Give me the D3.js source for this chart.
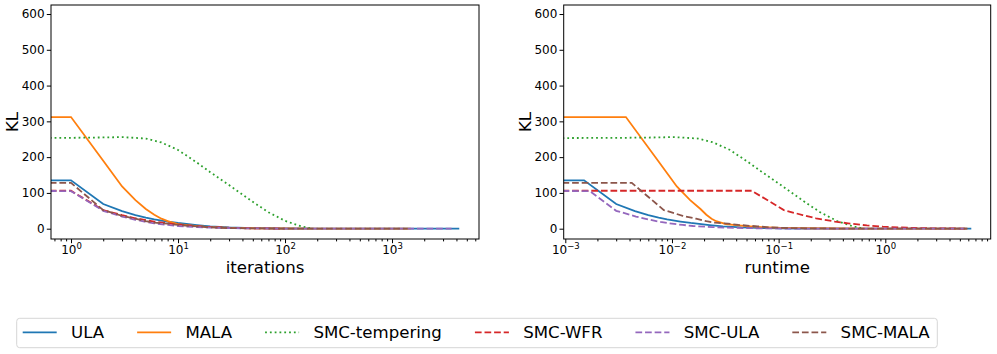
<!DOCTYPE html>
<html>
<head>
<meta charset="utf-8">
<script src="https://cdn.jsdelivr.net/npm/d3@7"></script>
<style>
body { margin: 0; background: #fff; }
svg text { font-family: "DejaVu Sans", sans-serif; fill: #000; }
</style>
</head>
<body>
<div id="chart"></div>
<script>
// KL vs iterations / runtime
var ulaIter = [0, 1, 2, 3, 4, 5, 6, 8, 10, 15, 20, 30, 50, 100, 200, 500, 1000, 2000, 4250];
var ulaTime = [0, 0.0015, 0.003, 0.0045, 0.006, 0.0075, 0.009, 0.012, 0.015, 0.0225, 0.03, 0.045, 0.075, 0.15, 0.3, 0.75, 1.5, 3.0, 6.4];
var ulaKL = [135, 135, 69, 49, 38, 31, 26, 20, 16, 10, 6.5, 3.5, 1.6, 0.6, 0.2, 0.1, 0, 0, 0];

var malaIter = [0, 1, 2, 3, 4, 5, 6, 7, 8, 10, 15, 20, 30, 50, 100, 200, 500, 1500];
var malaTime = [0, 0.0037, 0.0074, 0.0111, 0.0148, 0.0185, 0.021, 0.0235, 0.026, 0.032, 0.05, 0.07, 0.105, 0.18, 0.36, 0.72, 1.8, 5.8];
var malaKL = [312, 312, 190, 118, 80, 55, 39, 28, 21, 13, 7, 4.5, 2.5, 1.2, 0.5, 0.2, 0, 0];

var tempIter = [0, 1, 2, 3, 5, 7, 10, 15, 20, 30, 50, 70, 100, 140, 180];
var tempTime = [0, 0.0035, 0.007, 0.0105, 0.0175, 0.0245, 0.035, 0.0525, 0.07, 0.105, 0.175, 0.245, 0.35, 0.49, 0.63];
var tempKL = [253, 254, 255, 256, 252, 241, 220, 185, 158, 122, 75, 46, 22, 7, 0];

var wfrIter = [0, 1, 2, 3, 4, 6, 8, 12, 17, 25, 34, 50, 100];
var wfrTime = [0, 0.056, 0.112, 0.168, 0.224, 0.336, 0.448, 0.672, 0.952, 1.4, 1.9, 2.8, 5.6];
var wfrKL = [106, 106, 52, 38, 29, 20, 15, 9, 5.6, 3.5, 2, 1, 0.3];

var smcUlaIter = [0, 1, 2, 3, 4, 5, 6, 8, 10, 15, 20, 30, 50, 100, 200, 500, 1000, 2000, 3600];
var smcUlaTime = [0, 0.0017, 0.003, 0.0046, 0.0062, 0.0078, 0.0094, 0.0126, 0.0158, 0.024, 0.032, 0.048, 0.08, 0.16, 0.32, 0.8, 1.6, 3.2, 5.8];
var smcUlaKL = [106, 105, 50, 34, 25, 19, 15, 10.5, 7.5, 4.5, 3, 1.6, 0.8, 0.3, 0.1, 0, 0, 0, 0];

var smcMalaIter = [0, 1, 2, 3, 4, 5, 6, 8, 10, 15, 20, 30, 50, 100, 200, 500, 1000, 1400];
var smcMalaTime = [0, 0.0042, 0.0084, 0.0126, 0.0168, 0.021, 0.0252, 0.0336, 0.042, 0.063, 0.084, 0.126, 0.21, 0.42, 0.84, 2.1, 4.2, 5.9];
var smcMalaKL = [128, 128, 52, 36, 28, 21, 17, 14, 10.5, 6.5, 3.5, 1.8, 0.9, 0.3, 0.1, 0, 0, 0];

var yTicks = [0, 100, 200, 300, 400, 500, 600];
var iterTicks = [1, 10, 100, 1000];
var timeTicks = [0.001, 0.01, 0.1, 1];

var series = [
    {name: "ULA", color: "#1f77b4", dash: null, iter: ulaIter, time: ulaTime, kl: ulaKL},
    {name: "MALA", color: "#ff7f0e", dash: null, iter: malaIter, time: malaTime, kl: malaKL},
    {name: "SMC-tempering", color: "#2ca02c", dash: "1.8,3", iter: tempIter, time: tempTime, kl: tempKL},
    {name: "SMC-WFR", color: "#d62728", dash: "6.7,2.9", iter: wfrIter, time: wfrTime, kl: wfrKL},
    {name: "SMC-ULA", color: "#9467bd", dash: "6.7,2.9", iter: smcUlaIter, time: smcUlaTime, kl: smcUlaKL},
    {name: "SMC-MALA", color: "#8c564b", dash: "6.7,2.9", iter: smcMalaIter, time: smcMalaTime, kl: smcMalaKL}
];

var svgWidth = 997;
var svgHeight = 354;

var svg = d3.select("#chart")
    .append("svg")
    .attr("width", svgWidth)
    .attr("height", svgHeight);

var plotTop = 5, plotBottom = 239;

var yScale = d3.scaleLinear()
    .domain([-28.8, 625.2])
    .range([plotBottom, plotTop]);

function drawPanel(id, left, right, domain, key, majors, label) {
    var xScale = d3.scaleLog().domain(domain).range([left, right]);

    svg.append("clipPath").attr("id", id)
        .append("rect")
        .attr("x", left).attr("y", plotTop)
        .attr("width", right - left).attr("height", plotBottom - plotTop);

    // minor ticks 2..9 of every decade
    var minors = [];
    var lo = Math.floor(Math.log10(domain[0])), hi = Math.ceil(Math.log10(domain[1]));
    for (var e = lo; e <= hi; e++) {
        for (var k = 2; k <= 9; k++) {
            var v = k * Math.pow(10, e);
            if (v >= domain[0] && v <= domain[1]) minors.push(v);
        }
    }

    var minorAxis = svg.append("g")
        .attr("transform", `translate(0, ${plotBottom})`)
        .call(d3.axisBottom(xScale).tickValues(minors).tickSize(2.4).tickFormat(""));
    minorAxis.select(".domain").remove();

    var majorAxis = svg.append("g")
        .attr("transform", `translate(0, ${plotBottom})`)
        .call(d3.axisBottom(xScale).tickValues(majors).tickSize(4.2).tickFormat(""));
    majorAxis.select(".domain").remove();

    // 10^n labels
    majorAxis.selectAll(".tick").each(function(d) {
        var ex = Math.round(Math.log10(d));
        var t = d3.select(this).append("text")
            .attr("y", 15)
            .attr("text-anchor", "middle")
            .style("font-size", "12px")
            .attr("fill", "#000");
        t.append("tspan").text("10");
        t.append("tspan")
            .attr("dy", -4.8)
            .style("font-size", "8.5px")
            .text(ex < 0 ? "\u2212" + (-ex) : String(ex));
    });

    var yAxis = svg.append("g")
        .attr("transform", `translate(${left}, 0)`)
        .call(d3.axisLeft(yScale).tickValues(yTicks).tickSize(4.2).tickPadding(2.2));
    yAxis.select(".domain").remove();
    yAxis.selectAll("text").style("font-size", "12px").attr("fill", "#000");

    var line = d3.line()
        .x(d => d.x > 0 ? xScale(d.x) : left - 30)
        .y(d => yScale(d.y));

    var plot = svg.append("g").attr("clip-path", `url(#${id})`);
    series.forEach(function(s) {
        var pts = s[key].map((x, i) => ({x: x, y: s.kl[i]}));
        plot.append("path")
            .datum(pts)
            .attr("d", line)
            .attr("fill", "none")
            .attr("stroke", s.color)
            .attr("stroke-width", 1.8)
            .attr("stroke-dasharray", s.dash);
    });

    // frame
    svg.append("rect")
        .attr("x", left).attr("y", plotTop)
        .attr("width", right - left).attr("height", plotBottom - plotTop)
        .attr("fill", "none")
        .attr("stroke", "#000")
        .attr("stroke-width", 1);

    svg.append("text")
        .attr("x", (left + right) / 2)
        .attr("y", 273.3)
        .attr("text-anchor", "middle")
        .style("font-size", "16.6px")
        .text(label);

    svg.append("text")
        .attr("transform", `translate(${left - 32.6}, ${(plotTop + plotBottom) / 2}) rotate(-90)`)
        .attr("text-anchor", "middle")
        .style("font-size", "16.6px")
        .text("KL");
}

drawPanel("clipL", 51, 479, [0.650, 6500], "iter", iterTicks, "iterations");
drawPanel("clipR", 563.7, 990.7, [0.000966, 9.73], "time", timeTicks, "runtime");

// legend along the bottom
var legend = svg.append("g");
legend.append("rect")
    .attr("x", 16.7).attr("y", 318.3)
    .attr("width", 920.6).attr("height", 29.4)
    .attr("rx", 3)
    .attr("fill", "#fff")
    .attr("stroke", "#d6d6d6")
    .attr("stroke-width", 1);

var lx = 22.7, ly = 332.3;
series.forEach(function(s) {
    legend.append("line")
        .attr("x1", lx).attr("x2", lx + 34)
        .attr("y1", ly).attr("y2", ly)
        .attr("stroke", s.color)
        .attr("stroke-width", 1.8)
        .attr("stroke-dasharray", s.dash);
    var t = legend.append("text")
        .attr("x", lx + 48.3)
        .attr("y", ly)
        .attr("dy", "0.36em")
        .style("font-size", "16.6px")
        .text(s.name);
    lx = lx + 48.3 + t.node().getComputedTextLength() + 33;
});
</script>
</body>
</html>
